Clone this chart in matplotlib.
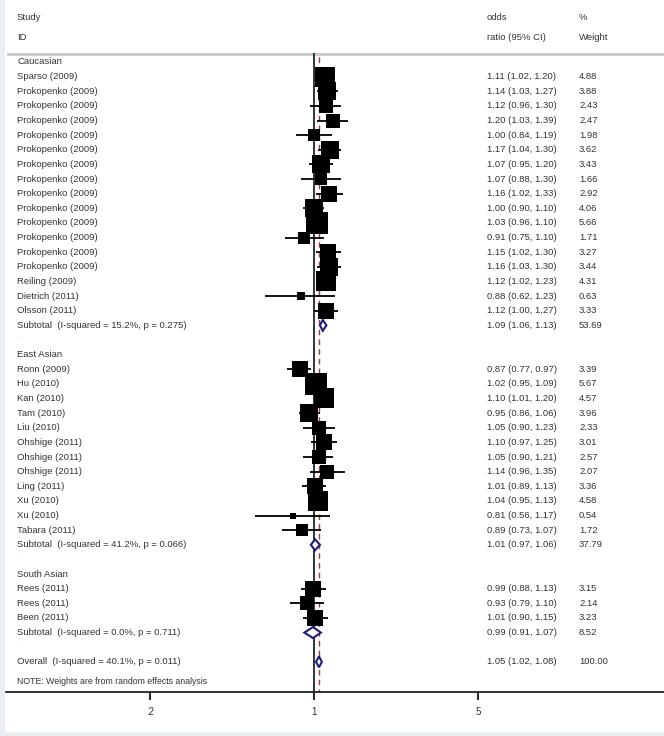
import numpy as np
import matplotlib.pyplot as plt
import matplotlib.transforms as mtransforms
from matplotlib.patches import Polygon, Rectangle
from matplotlib.ticker import NullLocator

plt.rcParams['font.family'] = ['Liberation Sans', 'DejaVu Sans']

# =====================================================
# Data
# =====================================================

group_names = ["Caucasian", "East Asian", "South Asian"]

studies = [
    ["Sparso (2009)"] + ["Prokopenko (2009)"] * 13
    + ["Reiling (2009)", "Dietrich (2011)", "Olsson (2011)"],
    ["Ronn (2009)", "Hu (2010)", "Kan (2010)", "Tam (2010)", "Liu (2010)",
     "Ohshige (2011)", "Ohshige (2011)", "Ohshige (2011)", "Ling (2011)",
     "Xu (2010)", "Xu (2010)", "Tabara (2011)"],
    ["Rees (2011)", "Rees (2011)", "Been (2011)"],
]

odds = [
    [1.11, 1.14, 1.12, 1.20, 1.00, 1.17, 1.07, 1.07, 1.16, 1.00, 1.03, 0.91,
     1.15, 1.16, 1.12, 0.88, 1.12],
    [0.87, 1.02, 1.10, 0.95, 1.05, 1.10, 1.05, 1.14, 1.01, 1.04, 0.81, 0.89],
    [0.99, 0.93, 1.01],
]
ci_low = [
    [1.02, 1.03, 0.96, 1.03, 0.84, 1.04, 0.95, 0.88, 1.02, 0.90, 0.96, 0.75,
     1.02, 1.03, 1.02, 0.62, 1.00],
    [0.77, 0.95, 1.01, 0.86, 0.90, 0.97, 0.90, 0.96, 0.89, 0.95, 0.56, 0.73],
    [0.88, 0.79, 0.90],
]
ci_high = [
    [1.20, 1.27, 1.30, 1.39, 1.19, 1.30, 1.20, 1.30, 1.33, 1.10, 1.10, 1.10,
     1.30, 1.30, 1.23, 1.23, 1.27],
    [0.97, 1.09, 1.20, 1.06, 1.23, 1.25, 1.21, 1.35, 1.13, 1.13, 1.17, 1.07],
    [1.13, 1.10, 1.15],
]
weights = [
    [4.88, 3.88, 2.43, 2.47, 1.98, 3.62, 3.43, 1.66, 2.92, 4.06, 5.66, 1.71,
     3.27, 3.44, 4.31, 0.63, 3.33],
    [3.39, 5.67, 4.57, 3.96, 2.33, 3.01, 2.57, 2.07, 3.36, 4.58, 0.54, 1.72],
    [3.15, 2.14, 3.23],
]

sub_labels = ["Subtotal  (I-squared = 15.2%, p = 0.275)",
              "Subtotal  (I-squared = 41.2%, p = 0.066)",
              "Subtotal  (I-squared = 0.0%, p = 0.711)"]
sub_or = [1.09, 1.01, 0.99]
sub_low = [1.06, 0.97, 0.91]
sub_high = [1.13, 1.06, 1.07]
sub_weight = [53.69, 37.79, 8.52]

overall_label = "Overall  (I-squared = 40.1%, p = 0.011)"
overall_or, overall_low, overall_high, overall_weight = 1.05, 1.02, 1.08, 100.00

# =====================================================
# Figure & axes (pixel layout)
# =====================================================

W, H = 664, 736
fig = plt.figure(figsize=(W / 100, H / 100), dpi=100, facecolor='#e9eff1')
fig.patches.append(Rectangle((5 / W, 4 / H), 1, 1, transform=fig.transFigure,
                             facecolor='white', edgecolor='none', zorder=-5))

axis_y = 692
ax = fig.add_axes([6 / W, (H - axis_y) / H, (W - 6) / W, axis_y / H])
ax.patch.set_alpha(0)
ax.set_zorder(2)
ax.set_xscale('log')
px_per_ln = 101.9
x_one = 314
ax.set_xlim(np.exp((6 - x_one) / px_per_ln), np.exp((W - x_one) / px_per_ln))
ax.set_ylim(axis_y, 0)

for s in ['top', 'right', 'left']:
    ax.spines[s].set_visible(False)
ax.spines['bottom'].set_linewidth(1.3)
ax.spines['bottom'].set_color('#222222')
ax.set_yticks([])
ax.set_xticks([0.2, 1, 5])
ax.set_xticklabels(['.2', '1', '5'])
ax.xaxis.set_minor_locator(NullLocator())
ax.tick_params(axis='x', length=5.5, width=1.4, pad=5, labelsize=7,
               color='#222222', labelcolor='#333333')

trans = mtransforms.blended_transform_factory(fig.transFigure, ax.transData)
txt_kw = dict(transform=trans, fontsize=6.8, color='#333333', va='center')

col_label, col_or, col_w = 17, 487, 579

# Header
ax.text(col_label / W, 17, "Study", **txt_kw)
ax.text(col_label / W, 37, "ID", **txt_kw)
ax.text(col_or / W, 17, "odds", **txt_kw)
ax.text(col_or / W, 37, "ratio (95% CI)", **txt_kw)
ax.text(col_w / W, 17, "%", **txt_kw)
ax.text(col_w / W, 37, "Weight", **txt_kw)
ax.axhline(54, xmin=2 / (W - 6), color='#c9c9c9', lw=2.0)

# =====================================================
# Rows
# =====================================================

row0, row_h = 62, 14.63


def fmt(e, l, h):
    return f"{e:.2f} ({l:.2f}, {h:.2f})"


def diamond(e, l, h, y, half=5.5):
    poly = Polygon([(l, y), (e, y - half), (h, y), (e, y + half)],
                   closed=True, facecolor='white', edgecolor='#1c1c7a',
                   lw=1.5, zorder=5)
    ax.add_patch(poly)


row = 0
for g in range(len(group_names)):
    ax.text(col_label / W, row0 + row * row_h, group_names[g], **txt_kw)
    row += 1
    for i in range(len(studies[g])):
        y = row0 + row * row_h
        ax.plot([ci_low[g][i], ci_high[g][i]], [y, y], color='black',
                lw=1.3, zorder=3, solid_capstyle='butt')
        ax.scatter([odds[g][i]], [y], marker='s', s=44 * weights[g][i],
                   color='black', linewidths=0, zorder=4)
        ax.text(col_label / W, y, studies[g][i], **txt_kw)
        ax.text(col_or / W, y, fmt(odds[g][i], ci_low[g][i], ci_high[g][i]), **txt_kw)
        ax.text(col_w / W, y, f"{weights[g][i]:.2f}", **txt_kw)
        row += 1
    y = row0 + row * row_h
    diamond(sub_or[g], sub_low[g], sub_high[g], y)
    ax.text(col_label / W, y, sub_labels[g], **txt_kw)
    ax.text(col_or / W, y, fmt(sub_or[g], sub_low[g], sub_high[g]), **txt_kw)
    ax.text(col_w / W, y, f"{sub_weight[g]:.2f}", **txt_kw)
    row += 1
    ax.text(col_label / W, row0 + row * row_h - 3, ".", fontsize=5,
            color='#999999', transform=trans, va='center')
    row += 1

y = row0 + row * row_h
diamond(overall_or, overall_low, overall_high, y)
ax.text(col_label / W, y, overall_label, **txt_kw)
ax.text(col_or / W, y, fmt(overall_or, overall_low, overall_high), **txt_kw)
ax.text(col_w / W, y, f"{overall_weight:.2f}", **txt_kw)

ax.text(col_label / W, 682, "NOTE: Weights are from random effects analysis",
        **dict(txt_kw, fontsize=6.3))

# Reference lines
ax.plot([1, 1], [54, axis_y], color='#333333', lw=1.4, zorder=2)
ax.plot([overall_or, overall_or], [57, axis_y], color='#a33a3a', lw=1.0,
        ls=(0, (4, 3)), zorder=2)

plt.savefig("out.png", dpi=100, facecolor=fig.get_facecolor())
